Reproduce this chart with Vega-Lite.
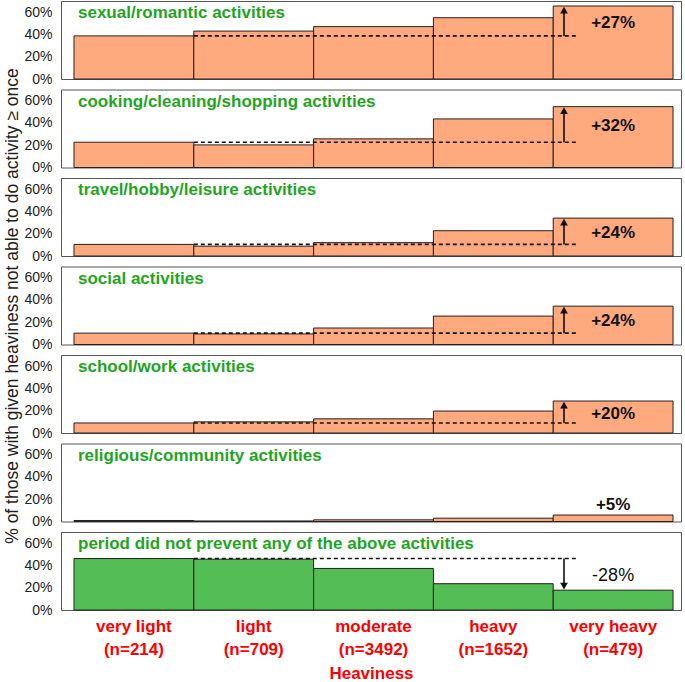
{
  "$schema": "https://vega.github.io/schema/vega-lite/v6.json",
  "padding": {"left": 3, "top": 0, "right": 4, "bottom": 0},
  "config": {
    "font": "Liberation Sans",
    "view": {"stroke": "#555", "strokeWidth": 1},
    "axisY": {"labelOverlap": false, "labelFlush": false, "grid": false}
  },
  "data": {
    "values": [
      {"activity": "sexual/romantic activities", "heaviness": "very light", "value": 38.7},
      {"activity": "sexual/romantic activities", "heaviness": "light", "value": 43.0},
      {"activity": "sexual/romantic activities", "heaviness": "moderate", "value": 47.0},
      {"activity": "sexual/romantic activities", "heaviness": "heavy", "value": 55.0},
      {"activity": "sexual/romantic activities", "heaviness": "very heavy", "value": 65.5},
      {"activity": "cooking/cleaning/shopping activities", "heaviness": "very light", "value": 22.7},
      {"activity": "cooking/cleaning/shopping activities", "heaviness": "light", "value": 20.3},
      {"activity": "cooking/cleaning/shopping activities", "heaviness": "moderate", "value": 25.7},
      {"activity": "cooking/cleaning/shopping activities", "heaviness": "heavy", "value": 43.6},
      {"activity": "cooking/cleaning/shopping activities", "heaviness": "very heavy", "value": 54.6},
      {"activity": "travel/hobby/leisure activities", "heaviness": "very light", "value": 10.4},
      {"activity": "travel/hobby/leisure activities", "heaviness": "light", "value": 8.8},
      {"activity": "travel/hobby/leisure activities", "heaviness": "moderate", "value": 12.0},
      {"activity": "travel/hobby/leisure activities", "heaviness": "heavy", "value": 22.7},
      {"activity": "travel/hobby/leisure activities", "heaviness": "very heavy", "value": 34.0},
      {"activity": "social activities", "heaviness": "very light", "value": 10.2},
      {"activity": "social activities", "heaviness": "light", "value": 9.5},
      {"activity": "social activities", "heaviness": "moderate", "value": 14.8},
      {"activity": "social activities", "heaviness": "heavy", "value": 25.5},
      {"activity": "social activities", "heaviness": "very heavy", "value": 34.4},
      {"activity": "school/work activities", "heaviness": "very light", "value": 9.0},
      {"activity": "school/work activities", "heaviness": "light", "value": 10.0},
      {"activity": "school/work activities", "heaviness": "moderate", "value": 12.7},
      {"activity": "school/work activities", "heaviness": "heavy", "value": 19.7},
      {"activity": "school/work activities", "heaviness": "very heavy", "value": 28.7},
      {"activity": "religious/community activities", "heaviness": "very light", "value": 0.9},
      {"activity": "religious/community activities", "heaviness": "light", "value": 0.5},
      {"activity": "religious/community activities", "heaviness": "moderate", "value": 1.5},
      {"activity": "religious/community activities", "heaviness": "heavy", "value": 3.0},
      {"activity": "religious/community activities", "heaviness": "very heavy", "value": 5.8},
      {"activity": "period did not prevent any of the above activities", "heaviness": "very light", "value": 46.2},
      {"activity": "period did not prevent any of the above activities", "heaviness": "light", "value": 45.6},
      {"activity": "period did not prevent any of the above activities", "heaviness": "moderate", "value": 37.3},
      {"activity": "period did not prevent any of the above activities", "heaviness": "heavy", "value": 23.6},
      {"activity": "period did not prevent any of the above activities", "heaviness": "very heavy", "value": 17.8}
    ]
  },
  "transform": [
    {"calculate": "datum.heaviness === 'very light' ? datum.value : null", "as": "vl"},
    {"joinaggregate": [{"op": "max", "field": "vl", "as": "base"}], "groupby": ["activity"]},
    {"calculate": "datum.value - datum.base", "as": "diff"},
    {"calculate": "(datum.diff > 0 ? '+' : '') + round(datum.diff) + '%'", "as": "label"},
    {"calculate": "abs(datum.diff) < 8 ? datum.value + 9 : (datum.base + datum.value) / 2 - 1.5", "as": "labelpos"},
    {"calculate": "datum.diff > 0 ? datum.value - 3.6 : datum.value + 3.6", "as": "head"},
    {"calculate": "datum.diff > 0 ? 'up' : 'down'", "as": "dir"}
  ],
  "facet": {
    "row": {
      "field": "activity",
      "type": "nominal",
      "sort": [
        "sexual/romantic activities",
        "cooking/cleaning/shopping activities",
        "travel/hobby/leisure activities",
        "social activities",
        "school/work activities",
        "religious/community activities",
        "period did not prevent any of the above activities"
      ],
      "header": {
        "labels": false,
        "labelPadding": 0,
        "title": "% of those with given heaviness not able to do activity ≥ once",
        "titleFontSize": 17.5,
        "titleFontWeight": "normal",
        "titleColor": "#222",
        "titlePadding": -8
      }
    }
  },
  "spacing": 8.5,
  "spec": {
    "width": 620,
    "height": 78,
    "encoding": {
      "x": {
        "field": "heaviness",
        "type": "nominal",
        "sort": ["very light", "light", "moderate", "heavy", "very heavy"],
        "scale": {"paddingInner": 0, "paddingOuter": 0.0875, "align": 0.62},
        "axis": {
          "title": "Heaviness",
          "titleColor": "#f00",
          "titleFontSize": 17,
          "titleFontWeight": "bold",
          "titlePadding": 8,
          "labelColor": "#f00",
          "labelFontSize": 17,
          "labelFontWeight": "bold",
          "labelAngle": 0,
          "labelLineHeight": 23,
          "labelPadding": 7,
          "labelExpr": "[datum.label, {'very light': '(n=214)', 'light': '(n=709)', 'moderate': '(n=3492)', 'heavy': '(n=1652)', 'very heavy': '(n=479)'}[datum.label]]",
          "ticks": false,
          "domain": false
        }
      }
    },
    "layer": [
      {
        "mark": {"type": "bar", "stroke": "#222", "strokeWidth": 1},
        "encoding": {
          "y": {
            "field": "value",
            "type": "quantitative",
            "scale": {"domain": [0, 70], "nice": false},
            "axis": {"values": [0, 20, 40, 60], "labelExpr": "datum.value + '%'", "labelOverlap": false, "labelFlush": false, "title": null, "grid": false, "domain": false, "ticks": false, "labelFontSize": 14, "labelColor": "#222", "labelPadding": 8}
          },
          "color": {
            "condition": {"test": "datum.activity === 'period did not prevent any of the above activities'", "value": "#55bd55"},
            "value": "#ffaa7e"
          }
        }
      },
      {
        "transform": [{"filter": "datum.heaviness === 'very heavy' && abs(datum.diff) >= 8"}],
        "mark": {"type": "rule", "strokeDash": [4, 3], "strokeWidth": 1.6, "color": "#111"},
        "encoding": {
          "x": {"datum": "light", "type": "nominal", "bandPosition": 0},
          "x2": {"datum": "very heavy", "bandPosition": 0.19},
          "y": {"field": "base", "type": "quantitative", "axis": {"values": [0, 20, 40, 60], "labelExpr": "datum.value + '%'", "labelOverlap": false, "labelFlush": false, "title": null, "grid": false, "domain": false, "ticks": false, "labelFontSize": 14, "labelColor": "#222", "labelPadding": 8}}
        }
      },
      {
        "transform": [{"filter": "datum.heaviness === 'very heavy' && abs(datum.diff) >= 8"}],
        "mark": {"type": "rule", "strokeWidth": 1.6, "color": "#111"},
        "encoding": {
          "x": {"datum": "very heavy", "type": "nominal", "bandPosition": 0.09},
          "y": {"field": "base", "type": "quantitative", "axis": {"values": [0, 20, 40, 60], "labelExpr": "datum.value + '%'", "labelOverlap": false, "labelFlush": false, "title": null, "grid": false, "domain": false, "ticks": false, "labelFontSize": 14, "labelColor": "#222", "labelPadding": 8}},
          "y2": {"field": "head"}
        }
      },
      {
        "transform": [{"filter": "datum.heaviness === 'very heavy' && abs(datum.diff) >= 8"}],
        "mark": {"type": "point", "filled": true, "opacity": 1, "color": "#111", "size": 60},
        "encoding": {
          "x": {"datum": "very heavy", "type": "nominal", "bandPosition": 0.09},
          "y": {"field": "head", "type": "quantitative", "axis": {"values": [0, 20, 40, 60], "labelExpr": "datum.value + '%'", "labelOverlap": false, "labelFlush": false, "title": null, "grid": false, "domain": false, "ticks": false, "labelFontSize": 14, "labelColor": "#222", "labelPadding": 8}},
          "shape": {"field": "dir", "type": "nominal", "scale": {"domain": ["up", "down"], "range": ["triangle-up", "triangle-down"]}, "legend": null}
        }
      },
      {
        "transform": [{"filter": "datum.heaviness === 'very heavy' && datum.diff > 0"}],
        "mark": {"type": "text", "fontSize": 17, "fontWeight": "bold", "color": "#111", "baseline": "middle"},
        "encoding": {
          "x": {"datum": "very heavy", "type": "nominal"},
          "y": {"field": "labelpos", "type": "quantitative", "axis": {"values": [0, 20, 40, 60], "labelExpr": "datum.value + '%'", "labelOverlap": false, "labelFlush": false, "title": null, "grid": false, "domain": false, "ticks": false, "labelFontSize": 14, "labelColor": "#222", "labelPadding": 8}},
          "text": {"field": "label"}
        }
      },
      {
        "transform": [{"filter": "datum.heaviness === 'very heavy' && datum.diff < 0"}],
        "mark": {"type": "text", "fontSize": 18, "fontWeight": "normal", "color": "#111", "baseline": "middle"},
        "encoding": {
          "x": {"datum": "very heavy", "type": "nominal"},
          "y": {"field": "labelpos", "type": "quantitative", "axis": {"values": [0, 20, 40, 60], "labelExpr": "datum.value + '%'", "labelOverlap": false, "labelFlush": false, "title": null, "grid": false, "domain": false, "ticks": false, "labelFontSize": 14, "labelColor": "#222", "labelPadding": 8}},
          "text": {"field": "label"}
        }
      },
      {
        "transform": [{"filter": "datum.heaviness === 'very light'"}],
        "mark": {"type": "text", "fontSize": 17, "fontWeight": "bold", "color": "#1fa51f", "align": "left", "baseline": "middle", "dx": 4},
        "encoding": {
          "x": {"field": "heaviness", "type": "nominal", "bandPosition": 0},
          "y": {"datum": 59, "type": "quantitative", "axis": {"values": [0, 20, 40, 60], "labelExpr": "datum.value + '%'", "labelOverlap": false, "labelFlush": false, "title": null, "grid": false, "domain": false, "ticks": false, "labelFontSize": 14, "labelColor": "#222", "labelPadding": 8}},
          "text": {"field": "activity"}
        }
      }
    ]
  }
}
